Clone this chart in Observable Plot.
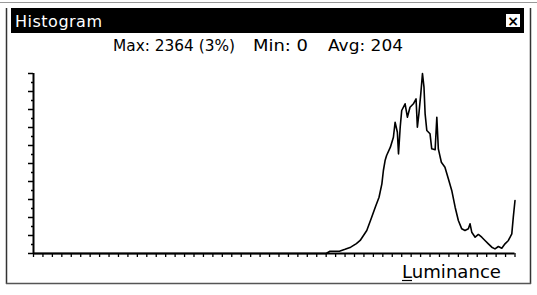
<!DOCTYPE html>
<html>
<head>
<meta charset="utf-8">
<script src="https://cdn.jsdelivr.net/npm/d3@7"></script>
<script src="https://cdn.jsdelivr.net/npm/@observablehq/plot@0.6"></script>
<style>
  html, body { margin: 0; padding: 0; background: #fff; }
  #wrap { position: relative; width: 537px; height: 295px; overflow: hidden; }
  #wrap svg { position: absolute; left: 0; top: 0; }
</style>
</head>
<body>
<div id="wrap"></div>
<script>
// ---- data ----
const title = "Histogram";
const statsLabels = ["Max: 2364 (3%)", "Min: 0", "Avg: 204"];
const xLabel = "Luminance";
const maxCount = 2364;

const luminance = [0, 155, 157, 162, 165, 168, 171, 173, 176.5, 179, 181, 183, 184.5, 185.3, 186.2, 187,
  189, 190.6, 191.5, 192.7, 193.3, 194.2, 195, 196.8, 198, 199.4, 201.2, 202.6, 203.3, 204.1, 205.1,
  206, 206.8, 207.4, 208.3, 210, 210.9, 212.7, 213.6, 214.4, 216, 217.9, 219.7, 221.5, 223.3, 225,
  226.8, 228.5, 230.3, 231.2, 232.1, 233.9, 235.6, 237.4, 239.1, 240.9, 242.7, 244.4, 246.2, 248,
  249.7, 251.5, 253.3, 254.1, 255];
const counts = [0, 0, 30, 30, 55, 83, 130, 171, 302, 470, 608, 739, 915, 1090, 1221, 1287,
  1396, 1527, 1724, 1593, 1309, 1658, 1878, 1966, 1790, 1921, 1966, 2031, 1658, 1834, 2097,
  2364, 2184, 1834, 1615, 1572, 1375, 1362, 1790, 1375, 1199, 1133, 981, 828, 608, 434,
  324, 302, 324, 390, 280, 214, 250, 214, 171, 127, 83, 61, 92, 70,
  127, 171, 258, 477, 696];

const yMajorTicks = [0, 236.4, 472.8, 709.2, 945.6, 1182, 1418.4, 1654.8, 1891.2, 2127.6, 2364];
const yMinorTicks = [118.2, 354.6, 591, 827.4, 1063.8, 1300.2, 1536.6, 1773, 2009.4, 2245.8];
const xTicks = d3.range(0, 256, 5);

const data = luminance.map((v, i) => ({v, c: counts[i]}));

const chart = Plot.plot({
  width: 537,
  height: 295,
  marginLeft: 33,
  marginRight: 22.5,
  marginTop: 73,
  marginBottom: 42,
  style: {background: "transparent", overflow: "visible"},
  x: {domain: [0, 255], label: null},
  y: {domain: [0, maxCount], label: null},
  marks: [
    Plot.axisY({ticks: yMajorTicks, tickSize: 5, tickFormat: () => "", label: null, strokeWidth: 1.5, stroke: "#000"}),
    Plot.axisY({ticks: yMinorTicks, tickSize: 2, tickFormat: () => "", label: null, strokeWidth: 1.5, stroke: "#000"}),
    Plot.axisX({ticks: xTicks, tickSize: 4, tickFormat: () => "", label: null, strokeWidth: 1.3, stroke: "#000"}),
    Plot.ruleX([0], {stroke: "#000", strokeWidth: 2}),
    Plot.ruleY([0], {stroke: "#000", strokeWidth: 2}),
    Plot.line(data, {x: "v", y: "c", stroke: "#000", strokeWidth: 1.6})
  ]
});
document.getElementById("wrap").appendChild(chart);

// ---- window chrome overlay ----
const svg = d3.select("#wrap").append("svg").attr("width", 537).attr("height", 295);
svg.append("line").attr("x1", 0).attr("x2", 537).attr("y1", 2.5).attr("y2", 2.5).attr("stroke", "#999").attr("stroke-width", 1);
svg.append("rect").attr("x", 11).attr("y", 8).attr("width", 513).attr("height", 25).attr("fill", "#000");
svg.append("line").attr("x1", 6.5).attr("x2", 6.5).attr("y1", 8).attr("y2", 284).attr("stroke", "#333").attr("stroke-width", 1.5);
svg.append("line").attr("x1", 530.5).attr("x2", 530.5).attr("y1", 8).attr("y2", 284).attr("stroke", "#333").attr("stroke-width", 1.5);
svg.append("line").attr("x1", 6).attr("x2", 531).attr("y1", 283.5).attr("y2", 283.5).attr("stroke", "#555").attr("stroke-width", 1.5);
svg.append("rect").attr("x", 506).attr("y", 14).attr("width", 14).attr("height", 13).attr("fill", "#fff");
svg.append("text").attr("x", 513).attr("y", 25.5).attr("text-anchor", "middle")
  .attr("font-family", "DejaVu Sans").attr("font-weight", "bold").attr("font-size", 14).attr("fill", "#000").text("×");
svg.append("text").attr("x", 15).attr("y", 27).attr("fill", "#fff")
  .attr("font-family", "DejaVu Sans").attr("font-size", 16).attr("textLength", 87).text(title);
const statsX = [113, 253, 328];
const statsW = [122, 55, 75];
statsLabels.forEach((s, i) => {
  svg.append("text").attr("x", statsX[i]).attr("y", 51).attr("fill", "#000")
    .attr("font-family", "DejaVu Sans").attr("font-size", 15.5).attr("textLength", statsW[i])
    .attr("lengthAdjust", "spacingAndGlyphs").text(s);
});
svg.append("text").attr("x", 402).attr("y", 278).attr("fill", "#000")
  .attr("font-family", "DejaVu Sans").attr("font-size", 18).attr("textLength", 99)
  .attr("lengthAdjust", "spacingAndGlyphs").text(xLabel);
svg.append("line").attr("x1", 402).attr("x2", 412).attr("y1", 280.5).attr("y2", 280.5).attr("stroke", "#000").attr("stroke-width", 1.2);
</script>
</body>
</html>
